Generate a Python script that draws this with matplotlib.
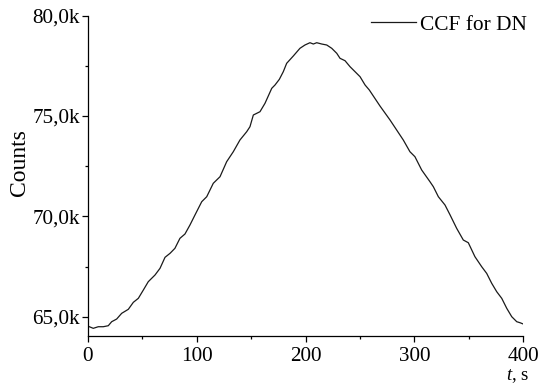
import matplotlib
matplotlib.use("Agg")
import matplotlib.pyplot as plt
from matplotlib.ticker import MultipleLocator, FuncFormatter

plt.rcParams['font.family'] = ['Liberation Serif', 'DejaVu Serif']
plt.rcParams['mathtext.fontset'] = 'custom'
plt.rcParams['mathtext.rm'] = 'Liberation Serif'
plt.rcParams['mathtext.it'] = 'Liberation Serif:italic'

t_s = [0, 5.1, 9.7, 14.3, 18.9, 22.0, 26.6, 31.2, 37.3, 41.9, 46.5, 51.1, 55.6,
       61.8, 66.4, 71.0, 75.6, 80.1, 84.7, 89.3, 93.9, 98.5, 104.7, 109.3, 115.3,
       121.5, 127.6, 133.7, 139.8, 146.0, 149.0, 152.1, 158.2, 162.8, 169.0, 172.0,
       176.0, 179.6, 182.7, 188.8, 194.9, 199.5, 204.1, 207.2, 210.3, 214.9, 219.5,
       224.1, 228.7, 231.7, 236.3, 240.9, 245.5, 250.1, 254.7, 258.6, 268.4, 277.6,
       289.8, 295.9, 300.5, 306.7, 314.3, 317.4, 322.0, 328.1, 332.8, 338.8, 344.9,
       349.5, 355.6, 361.8, 366.4, 371.0, 375.6, 380.2, 384.8, 389.4, 394.0, 397.0, 400]
counts = [64537, 64422, 64502, 64502, 64552, 64751, 64885, 65169, 65369, 65717, 65916,
          66330, 66743, 67077, 67410, 67958, 68157, 68406, 68904, 69118, 69567, 70065,
          70727, 70976, 71643, 71972, 72719, 73217, 73800, 74213, 74462, 75045, 75209,
          75627, 76374, 76539, 76823, 77201, 77619, 77983, 78366, 78531, 78645, 78580,
          78645, 78580, 78531, 78366, 78117, 77868, 77749, 77450, 77201, 76952, 76539,
          76290, 75493, 74797, 73800, 73217, 72968, 72305, 71723, 71474, 70976, 70563,
          70065, 69402, 68820, 68685, 67988, 67490, 67157, 66663, 66245, 65916, 65418,
          65000, 64751, 64701, 64636]
series_label = "CCF for DN"

W, H = 539, 385
fig = plt.figure(figsize=(W/100, H/100), dpi=100)
ax = fig.add_axes([87.7/W, 1-336/H, (523.3-87.7)/W, (336-15.5)/H])

ax.plot(t_s, counts, color='#1a1a1a', lw=0.9, label=series_label)
ax.set_xlim(0, 400)
ax.set_ylim(64040, 80000)

for s in ['top', 'right']:
    ax.spines[s].set_visible(False)
for s in ['left', 'bottom']:
    ax.spines[s].set_linewidth(0.9)

ax.xaxis.set_major_locator(MultipleLocator(100))
ax.xaxis.set_minor_locator(MultipleLocator(50))
ax.yaxis.set_major_locator(MultipleLocator(5000))
ax.yaxis.set_minor_locator(MultipleLocator(2500))
ax.yaxis.set_major_formatter(FuncFormatter(lambda v, p: f"{v/1000:.1f}k".replace('.', ',')))
ax.tick_params(which='major', direction='out', length=4.5, width=0.9, labelsize=15.2)
ax.tick_params(which='minor', direction='out', length=2.5, width=0.9)
ax.tick_params(axis='y', which='major', pad=1)
ax.tick_params(axis='x', which='major', pad=3.5)

fig.text(518/W, 1-385/H, r"$\it{t}$, s", ha='center', va='bottom', fontsize=13.5)
fig.text(19/W, 1-163/H, "Counts", rotation=90, ha='center', va='center', fontsize=17)

ax.legend(loc='center left', bbox_to_anchor=(371/W, 1-25/H), bbox_transform=fig.transFigure,
          frameon=False, fontsize=15.4, borderpad=0, borderaxespad=0,
          handlelength=2.1, handletextpad=0.2)

fig.savefig("out.png", dpi=100)
